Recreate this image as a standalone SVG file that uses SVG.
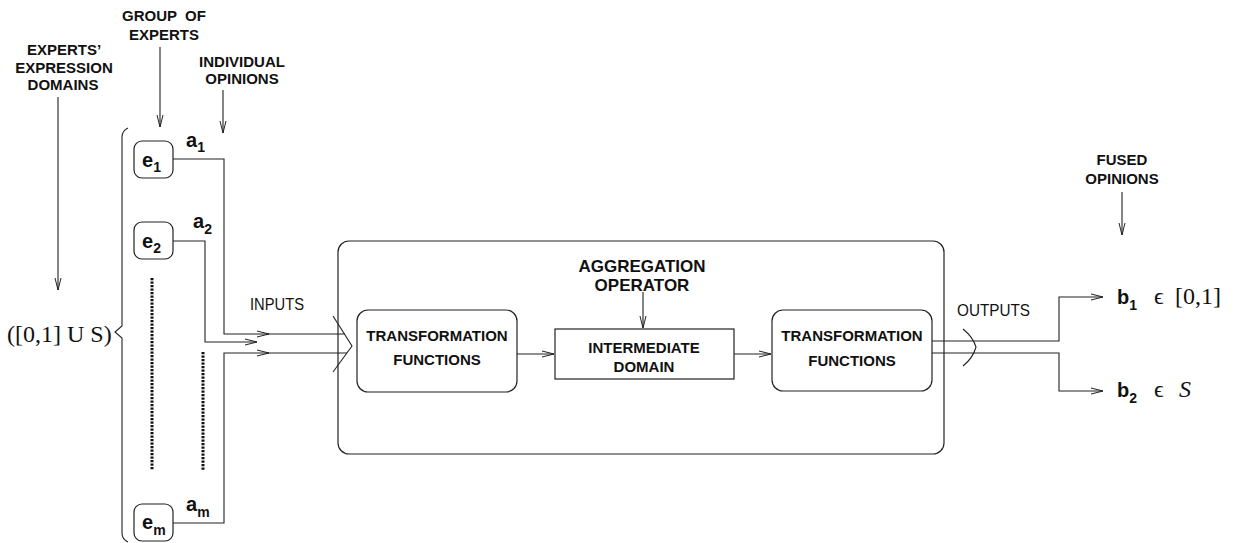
<svg xmlns="http://www.w3.org/2000/svg" width="1236" height="543" viewBox="0 0 1236 543">
<style>
.lbl{font-family:"Liberation Sans",Arial,sans-serif;font-weight:bold;font-size:15px;fill:#111;text-anchor:middle}
.big{font-size:17px}
.thin{font-family:"Liberation Sans",Arial,sans-serif;font-size:17px;fill:#111}
.var{font-family:"Liberation Sans",Arial,sans-serif;font-weight:bold;font-size:20px;fill:#111}
.sub{font-size:14px}
.ser{font-family:"Liberation Serif","Times New Roman",serif;font-size:24px;fill:#111}
.box{fill:none;stroke:#222;stroke-width:1.2}
.ln{fill:none;stroke:#222;stroke-width:1.1}
.dot{fill:none;stroke:#111;stroke-width:3;stroke-dasharray:2.2 1.3}
</style>
<defs>
<marker id="ah" markerUnits="userSpaceOnUse" markerWidth="14" markerHeight="8" refX="12" refY="4" orient="auto">
<path d="M0,1 L12,4 L0,7" fill="none" stroke="#222" stroke-width="1"/>
</marker>
</defs>

<g id="labels">
<text class="lbl" x="64" y="55">EXPERTS’</text>
<text class="lbl" x="64" y="73">EXPRESSION</text>
<text class="lbl" x="63" y="90">DOMAINS</text>
<text class="lbl" x="164" y="21" xml:space="preserve">GROUP  OF</text>
<text class="lbl" x="164" y="40">EXPERTS</text>
<text class="lbl" x="242" y="67">INDIVIDUAL</text>
<text class="lbl" x="242" y="84">OPINIONS</text>
<text class="lbl" x="1122" y="165">FUSED</text>
<text class="lbl" x="1122" y="184">OPINIONS</text>
<text class="ser" x="7" y="342">([0,1] U S)</text>
<text class="thin" x="250" y="310" textLength="54" lengthAdjust="spacingAndGlyphs">INPUTS</text>
<text class="thin" x="957" y="316" textLength="73" lengthAdjust="spacingAndGlyphs">OUTPUTS</text>
</g>

<g id="brace">
<path class="ln" d="M128,128 Q122,131 122,137 L122,326 L115,332 L122,338 L122,533 Q122,539 128,542"/>
</g>

<g id="e1">
<rect class="box" x="134" y="141" width="39" height="37" rx="8"/>
<text class="var" x="142" y="167">e<tspan class="sub" dy="5">1</tspan></text>
</g>
<g id="e2">
<rect class="box" x="134" y="222" width="39" height="37" rx="8"/>
<text class="var" x="142" y="248">e<tspan class="sub" dy="5">2</tspan></text>
</g>
<g id="em">
<rect class="box" x="134" y="504" width="39" height="37" rx="8"/>
<text class="var" x="142" y="529">e<tspan class="sub" dy="6">m</tspan></text>
</g>

<g id="opinions">
<text class="var" x="186" y="147">a<tspan class="sub" dy="5">1</tspan></text>
<text class="var" x="193" y="228">a<tspan class="sub" dy="6">2</tspan></text>
<text class="var" x="186" y="511">a<tspan class="sub" dy="6">m</tspan></text>
</g>

<g id="dots">
<line class="dot" x1="152" y1="278" x2="152" y2="470"/>
<line class="dot" x1="203" y1="352" x2="203" y2="470"/>
</g>

<g id="aggregation-operator">
<rect class="box" x="338" y="241" width="606" height="213" rx="11"/>
<text class="lbl big" x="642" y="272">AGGREGATION</text>
<text class="lbl big" x="642" y="291">OPERATOR</text>
</g>
<g id="tf-in">
<rect class="box" x="357" y="310" width="160" height="82" rx="11"/>
<text class="lbl" x="437" y="341">TRANSFORMATION</text>
<text class="lbl" x="437" y="365">FUNCTIONS</text>
</g>
<g id="intermediate">
<rect class="box" x="555" y="329" width="179" height="50"/>
<text class="lbl" x="644" y="353">INTERMEDIATE</text>
<text class="lbl" x="644" y="372">DOMAIN</text>
</g>
<g id="tf-out">
<rect class="box" x="772" y="310" width="160" height="81" rx="11"/>
<text class="lbl" x="852" y="341">TRANSFORMATION</text>
<text class="lbl" x="852" y="366">FUNCTIONS</text>
</g>

<g id="outputs">
<text class="var" x="1117" y="304">b<tspan class="sub" dy="6">1</tspan></text>
<text class="ser" x="1154" y="304">ϵ</text>
<text class="ser" x="1175" y="304">[0,1]</text>
<text class="var" x="1117" y="397">b<tspan class="sub" dy="6">2</tspan></text>
<text class="ser" x="1154" y="397">ϵ</text>
<text class="ser" x="1179" y="397" font-style="italic">S</text>
</g>

<g id="connectors">
<line class="ln" x1="58" y1="97" x2="58" y2="290" marker-end="url(#ah)"/>
<line class="ln" x1="160" y1="47" x2="160" y2="127" marker-end="url(#ah)"/>
<line class="ln" x1="223" y1="90" x2="223" y2="133" marker-end="url(#ah)"/>
<line class="ln" x1="1122" y1="192" x2="1122" y2="235" marker-end="url(#ah)"/>
<line class="ln" x1="643" y1="292" x2="643" y2="328" marker-end="url(#ah)"/>
<polyline class="ln" points="173,159 224,159 224,334 269,334" marker-end="url(#ah)"/>
<line class="ln" x1="268" y1="334" x2="345" y2="334"/>
<polyline class="ln" points="173,241 205,241 205,342 257,342" marker-end="url(#ah)"/>
<polyline class="ln" points="173,523 224,523 224,353 269,353" marker-end="url(#ah)"/>
<line class="ln" x1="268" y1="353" x2="347" y2="353"/>
<polyline class="ln" points="333,316 352,346 333,372"/>
<line class="ln" x1="517" y1="354" x2="554" y2="354" marker-end="url(#ah)"/>
<line class="ln" x1="734" y1="354" x2="771" y2="354" marker-end="url(#ah)"/>
<polyline class="ln" points="932,341 1059,341 1059,297 1103,297" marker-end="url(#ah)"/>
<polyline class="ln" points="932,353 1059,353 1059,391 1103,391" marker-end="url(#ah)"/>
<path class="ln" d="M963,329 Q973,337 976,347 Q973,358 963,366"/>
</g>
</svg>
